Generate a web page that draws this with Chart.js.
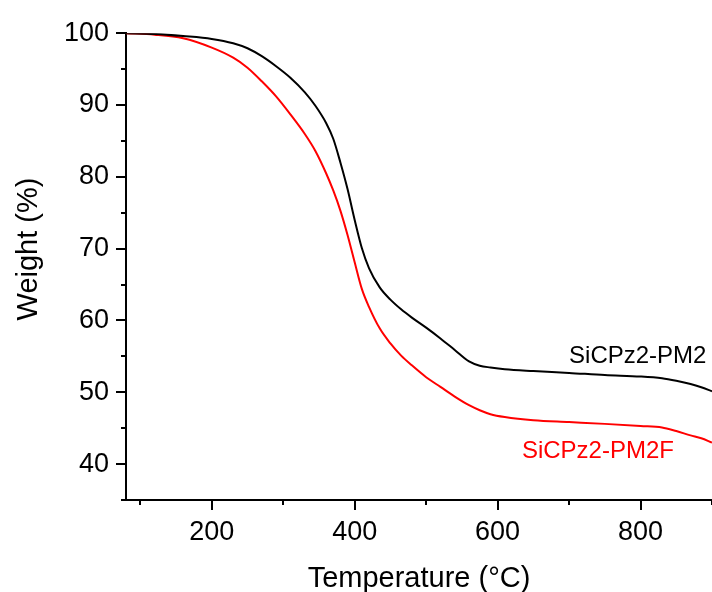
<!DOCTYPE html>
<html>
<head>
<meta charset="utf-8">
<script src="https://cdn.jsdelivr.net/npm/chart.js@4.4.1/dist/chart.umd.min.js"></script>
<style>
  html, body { margin: 0; padding: 0; background: #fff; }
</style>
</head>
<body>
<canvas id="tga" width="712" height="592"></canvas>
<script>
// TGA curves
const temps = [80, 120, 160, 200, 230, 250, 270, 290, 310, 330, 345, 360, 370, 380, 390, 400,
               410, 420, 435, 450, 465, 480, 500, 520, 540, 560, 575, 590, 610, 650, 700, 750,
               800, 830, 850, 870, 885, 900];
const weightPM2 = [100, 99.9, 99.6, 99.2, 98.6, 97.9, 96.8, 95.4, 93.8, 91.8, 89.9, 87.5, 85.3, 82.0, 78.3, 74.0,
                   70.1, 67.3, 64.6, 62.9, 61.55, 60.4, 59.0, 57.5, 55.9, 54.3, 53.7, 53.45, 53.2, 52.95, 52.7, 52.4,
                   52.2, 51.95, 51.6, 51.15, 50.7, 50.15];
const weightPM2F = [100, 99.8, 99.3, 98.0, 96.6, 95.2, 93.3, 91.2, 88.7, 86.0, 83.6, 80.5, 78.1, 75.3, 71.9, 68.1,
                    64.4, 61.9, 58.9, 56.8, 55.1, 53.75, 52.1, 50.75, 49.4, 48.2, 47.5, 46.95, 46.55, 46.1, 45.85, 45.6,
                    45.3, 45.1, 44.6, 44.0, 43.6, 43.0];
const seriesNames = ["SiCPz2-PM2", "SiCPz2-PM2F"];
const seriesColors = ["#000000", "#ff0000"];
const xMajor = [200, 400, 600, 800];
const yMajor = [40, 50, 60, 70, 80, 90, 100];

const FONT = "'Liberation Sans', Arial, sans-serif";

// where the curve names sit, in data units
const nameSpots = [
  { x: 700, y: 54.1 },
  { x: 634, y: 40.9 }
];

const toPoints = (ys) => temps.map((t, i) => ({ x: t, y: ys[i] }));

// ticks (major/minor), axis titles and curve names
const extrasPlugin = {
  id: "extras",
  afterDraw(chart) {
    const ctx = chart.ctx;
    const xs = chart.scales.x;
    const ys = chart.scales.y;
    const area = chart.chartArea;
    ctx.save();
    ctx.strokeStyle = "#000";
    ctx.lineWidth = 2;
    ctx.beginPath();
    for (let v = 100; v <= 900; v += 100) {
      const px = Math.round(xs.getPixelForValue(v));
      const len = xMajor.includes(v) ? 10 : 5;
      ctx.moveTo(px, area.bottom);
      ctx.lineTo(px, area.bottom + len);
    }
    for (let v = 35; v <= 100; v += 5) {
      const py = Math.round(ys.getPixelForValue(v));
      const len = yMajor.includes(v) ? 10 : 5;
      ctx.moveTo(area.left, py);
      ctx.lineTo(area.left - len, py);
    }
    ctx.stroke();

    ctx.fillStyle = "#000";
    ctx.font = "29px " + FONT;
    ctx.textAlign = "center";
    ctx.textBaseline = "alphabetic";
    ctx.fillText("Temperature (°C)", (area.left + area.right) / 2, 587);

    ctx.save();
    ctx.translate(36.5, 249);
    ctx.rotate(-Math.PI / 2);
    ctx.fillText("Weight (%)", 0, 0);
    ctx.restore();

    ctx.font = "24px " + FONT;
    ctx.textAlign = "left";
    nameSpots.forEach((s, i) => {
      ctx.fillStyle = seriesColors[i];
      ctx.fillText(seriesNames[i], xs.getPixelForValue(s.x), ys.getPixelForValue(s.y));
    });
    ctx.restore();
  }
};

new Chart(document.getElementById("tga"), {
  type: "line",
  data: {
    datasets: [
      {
        label: seriesNames[0],
        data: toPoints(weightPM2),
        borderColor: seriesColors[0],
        borderWidth: 2,
        pointRadius: 0,
        cubicInterpolationMode: "monotone",
        fill: false
      },
      {
        label: seriesNames[1],
        data: toPoints(weightPM2F),
        borderColor: seriesColors[1],
        borderWidth: 2,
        pointRadius: 0,
        cubicInterpolationMode: "monotone",
        fill: false
      }
    ]
  },
  options: {
    responsive: false,
    animation: false,
    layout: { padding: { top: 27, right: 0, bottom: 0, left: 0 } },
    plugins: {
      legend: { display: false },
      tooltip: { enabled: false }
    },
    scales: {
      x: {
        type: "linear",
        min: 80,
        max: 900,
        afterFit: (s) => {
          s.height = 92;
          s.paddingLeft = 0;
          s.paddingRight = 0;
        },
        grid: { display: false, drawTicks: false },
        border: { display: true, color: "#000", width: 2 },
        ticks: {
          stepSize: 100,
          autoSkip: false,
          maxRotation: 0,
          padding: 16,
          color: "#000",
          font: { family: FONT, size: 27 },
          callback: (v) => (xMajor.includes(v) ? String(v) : "")
        }
      },
      y: {
        min: 35,
        max: 100,
        afterFit: (s) => { s.width = 126; },
        grid: { display: false, drawTicks: false },
        border: { display: true, color: "#000", width: 2 },
        ticks: {
          stepSize: 5,
          autoSkip: false,
          padding: 17,
          color: "#000",
          font: { family: FONT, size: 27 },
          callback: (v) => (yMajor.includes(v) ? String(v) : "")
        }
      }
    }
  },
  plugins: [extrasPlugin]
});
</script>
</body>
</html>
